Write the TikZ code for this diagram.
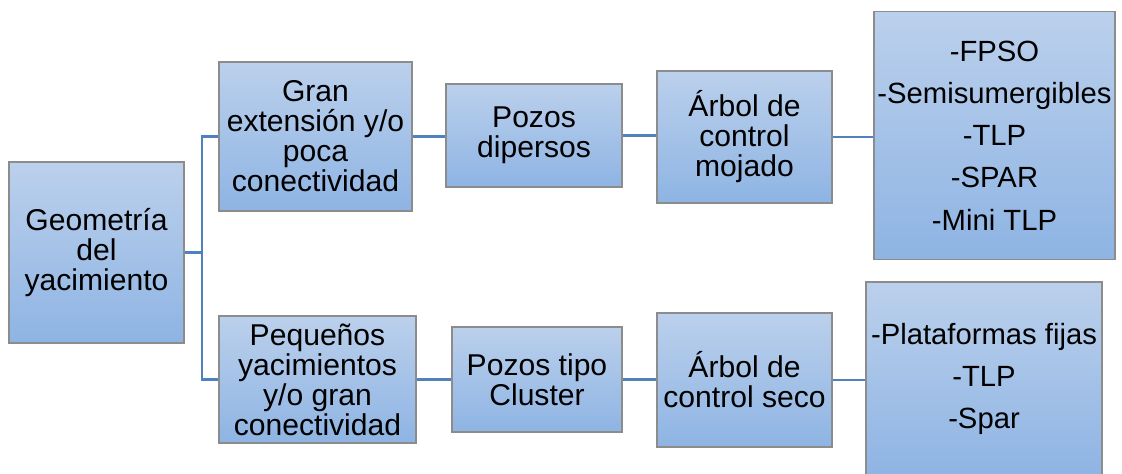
\documentclass[tikz,border=0pt]{standalone}
\usepackage{fontspec}
\setmainfont{Liberation Sans}
\definecolor{lnk}{RGB}{79,129,189}
\definecolor{boxtop}{RGB}{187,208,236}
\definecolor{boxbot}{RGB}{142,180,227}
\definecolor{boxline}{RGB}{140,140,140}
\newcommand\myboxfont{\fontsize{21.4}{21.3}\selectfont\lineskiplimit=-50pt\relax}
\newcommand\mylistfont{\fontsize{20.8}{30}\selectfont\lineskiplimit=-50pt\relax}
\tikzset{
  box/.style={draw=boxline, line width=0.8pt, top color=boxtop, bottom color=boxbot,
    inner sep=0pt, align=center, font=\myboxfont},
  listbox/.style={box, font=\mylistfont},
  link/.style={draw=lnk, line width=1.5pt}
}
\begin{document}
\begin{tikzpicture}[x=0.025cm,y=-0.025cm]
\useasboundingbox (0,0) rectangle (1122,473);
\node[box, minimum width=4.375cm, minimum height=4.525cm] (A) at (96.5,252.5) {Geometría\\del\\yacimiento};
\node[box, minimum width=4.825cm, minimum height=3.725cm] (B1) at (315.5,136.5) {Gran\\extensión y/o\\poca\\conectividad};
\node[box, minimum width=4.925cm, minimum height=3.175cm] (B2) at (317.5,379.5) {Pequeños\\yacimientos\\y/o gran\\conectividad};
\node[box, minimum width=4.4cm, minimum height=2.575cm] (C1) at (534,135.5) {Pozos\\dipersos};
\node[box, minimum width=4.25cm, minimum height=2.625cm] (C2) at (537,379.5) {Pozos tipo\\Cluster};
\node[box, minimum width=4.375cm, minimum height=3.3cm] (D1) at (744.5,137) {Árbol de\\control\\mojado};
\node[box, minimum width=4.375cm, minimum height=3.35cm] (D2) at (744.5,380) {Árbol de\\control seco};
\node[listbox, minimum width=6.025cm, minimum height=6.2cm] (E1) at (994.5,135.5) {-FPSO\\-Semisumergibles\\-TLP\\-SPAR\\-Mini TLP};
\node[listbox, minimum width=5.9cm, minimum height=4.85cm] (E2) at (984,379) {-Plataformas fijas\\-TLP\\-Spar};
\coordinate (jn) at (202,252.5);
\draw[link] (A.east) -- (jn);
\draw[link] (B1.west) -| (jn);
\draw[link] (B2.west) -| (jn);
\draw[link] (B1.east) -- (B1.east -| C1.west);
\draw[link] (C1.east) -- (C1.east -| D1.west);
\draw[link] (D1.east) -- (D1.east -| E1.west);
\draw[link] (B2.east) -- (B2.east -| C2.west);
\draw[link] (C2.east) -- (C2.east -| D2.west);
\draw[link] (D2.east) -- (D2.east -| E2.west);
\end{tikzpicture}
\end{document}
